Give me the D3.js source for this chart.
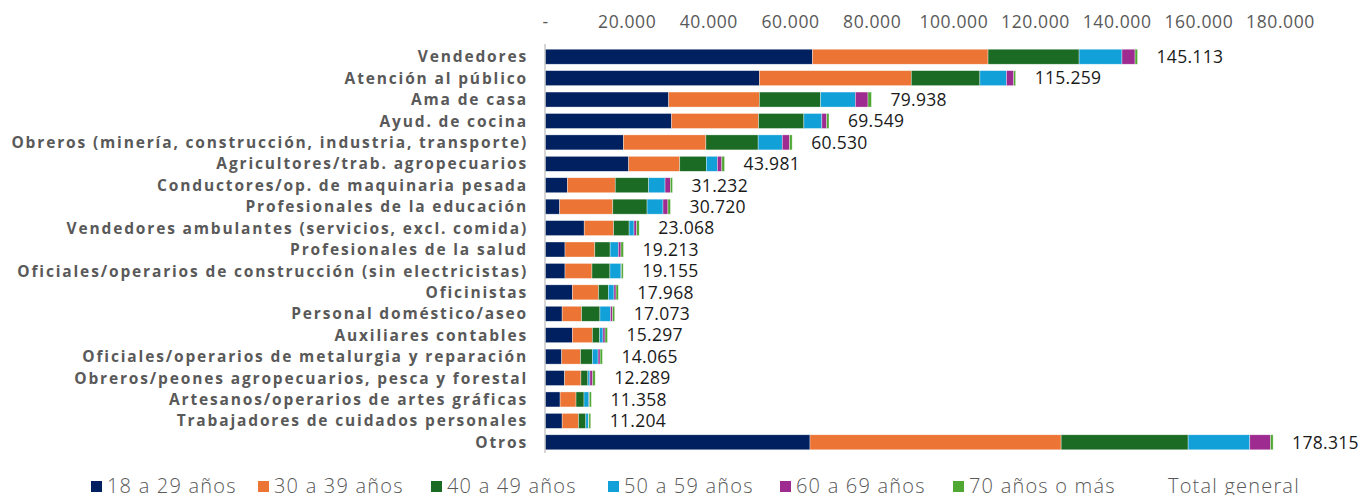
<!DOCTYPE html>
<html><head><meta charset="utf-8">
<script src="https://cdn.jsdelivr.net/npm/d3@7"></script>
<style>
html,body{margin:0;padding:0;background:#fff;}
svg{display:block;}
</style></head>
<body>
<svg id="chart" width="1372" height="495"></svg>
<script>
const categories = [
 "Vendedores","Atención al público","Ama de casa","Ayud. de cocina",
 "Obreros (minería, construcción, industria, transporte)","Agricultores/trab. agropecuarios",
 "Conductores/op. de maquinaria pesada","Profesionales de la educación",
 "Vendedores ambulantes (servicios, excl. comida)","Profesionales de la salud",
 "Oficiales/operarios de construcción (sin electricistas)","Oficinistas",
 "Personal doméstico/aseo","Auxiliares contables",
 "Oficiales/operarios de metalurgia y reparación","Obreros/peones agropecuarios, pesca y forestal",
 "Artesanos/operarios de artes gráficas","Trabajadores de cuidados personales","Otros"
];
const seriesNames = ["18 a 29 años","30 a 39 años","40 a 49 años","50 a 59 años","60 a 69 años","70 años o más"];
const age18_29 = [65500,52500,30300,31000,19200,20500,5500,3600,9600,4900,4900,6700,4200,6700,4100,4800,3700,4200,64900];
const age30_39 = [43000,37200,22200,21300,20200,12500,11700,13000,7200,7300,6600,6400,4750,4900,4600,4000,3900,4000,61500];
const age40_49 = [22300,16800,15000,11100,12800,6500,8200,8400,3800,3750,4400,2400,4500,1800,2900,1700,1950,1800,31100];
const age50_59 = [10500,6500,8500,4400,5900,2700,4000,3900,1200,2000,2700,1400,2600,800,1400,500,1200,700,15100];
const age60_69 = [3200,1800,3100,1200,1800,1100,1300,1200,650,650,100,500,500,500,500,700,100,50,5100];
const age70plus = [613,459,838,549,630,681,532,620,618,613,455,568,523,597,565,589,508,454,615];
const totals = [145113,115259,79938,69549,60530,43981,31232,30720,23068,19213,19155,17968,17073,15297,14065,12289,11358,11204,178315];
const tickValues = [0,20000,40000,60000,80000,100000,120000,140000,160000,180000];
const totalLegend = "Total general";

const colors = ["#002060","#ec7434","#1b6b24","#12a0d8","#9e2b90","#4ea832"];
const seriesValues = [age18_29,age30_39,age40_49,age50_59,age60_69,age70plus];

const fmt = v => v===0 ? "-" : d3.format(",")(v).replace(/,/g,".");

const svg = d3.select("#chart");
const x = d3.scaleLinear().domain([0,180000]).range([545,1280]);
const y = d3.scaleBand().domain(categories).range([46,453]).paddingInner(0.3).paddingOuter(0.15);

const rows = categories.map((c,i)=>{
  const o = {cat:c};
  seriesNames.forEach((s,j)=>o[s]=seriesValues[j][i]);
  return o;
});
const stack = d3.stack().keys(seriesNames)(rows);

// top axis
const axis = d3.axisTop(x).tickValues(tickValues).tickSize(0).tickPadding(0).tickFormat(fmt);
const ag = svg.append("g").attr("transform","translate(0,28)").call(axis);
ag.select(".domain").remove();
ag.selectAll("text").attr("font-family","'Open Sans', sans-serif").attr("font-size",17.5).attr("fill","#595959").attr("letter-spacing","0.6");

// bars
svg.append("g").selectAll("g").data(stack).join("g").attr("fill",(d,i)=>colors[i])
 .selectAll("rect").data(d=>d).join("rect")
 .attr("x",d=>x(d[0])).attr("width",d=>Math.max(0,x(d[1])-x(d[0])))
 .attr("y",d=>y(d.data.cat)).attr("height",y.bandwidth())
 .attr("stroke","#ffffff").attr("stroke-width",0.6).attr("stroke-opacity",0.6);

// vertical axis line
svg.append("line").attr("x1",545).attr("x2",545).attr("y1",44).attr("y2",453)
 .attr("stroke","#c8c8c8").attr("stroke-width",1.5);

// category labels
svg.append("g").selectAll("text").data(categories).join("text")
 .attr("x",528).attr("y",d=>y(d)+y.bandwidth()/2).attr("dy","0.36em")
 .attr("text-anchor","end").attr("font-family","'Open Sans', sans-serif").attr("font-weight","bold")
 .attr("font-size",15.5).attr("letter-spacing","1.85").attr("fill","#595959").text(d=>d);

// total labels
svg.append("g").selectAll("text").data(categories).join("text")
 .attr("x",(d,i)=>x(totals[i])+19).attr("y",d=>y(d)+y.bandwidth()/2).attr("dy","0.36em")
 .attr("font-family","'Open Sans', sans-serif").attr("font-size",17.5).attr("fill","#1a1a1a")
 .attr("letter-spacing","0.3")
 .text((d,i)=>fmt(totals[i]));

// legend
const legX = [91,258,431,608,780,953];
const lg = svg.append("g");
const legFont = t => t.attr("font-family","'Open Sans', sans-serif").attr("font-weight",300)
   .attr("font-size",20).attr("fill","#595959").attr("letter-spacing","1.2");
seriesNames.forEach((s,i)=>{
  lg.append("rect").attr("x",legX[i]).attr("y",481).attr("width",11).attr("height",11).attr("fill",colors[i]);
  lg.append("text").attr("x",legX[i]+16).attr("y",493).call(legFont).text(s);
});
lg.append("text").attr("x",1168).attr("y",493).call(legFont).text(totalLegend);
</script>
</body></html>
